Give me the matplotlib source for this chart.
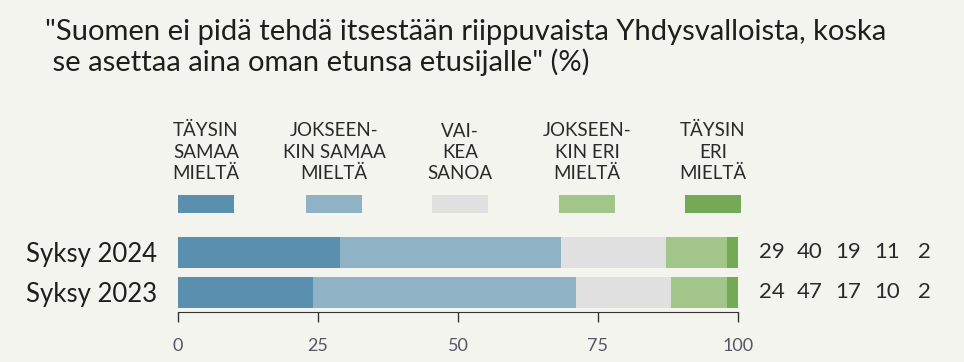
import matplotlib.pyplot as plt
from matplotlib.patches import Rectangle

# data
periods = ['Syksy 2023', 'Syksy 2024']
categories = ['TÄYSIN\nSAMAA\nMIELTÄ', 'JOKSEEN-\nKIN SAMAA\nMIELTÄ', 'VAI-\nKEA\nSANOA',
              'JOKSEEN-\nKIN ERI\nMIELTÄ', 'TÄYSIN\nERI\nMIELTÄ']
values_2023 = [24.1, 47.0, 16.9, 10.0, 2.0]
values_2024 = [28.9, 39.5, 18.7, 10.9, 2.0]
labels_2023 = ['24', '47', '17', '10', '2']
labels_2024 = ['29', '40', '19', '11', '2']
colors = ['#5a8fae', '#8fb2c4', '#e0e0e0', '#a2c68a', '#74aa55']
bg = '#f4f4ef'

plt.rcParams['font.family'] = ['Lato', 'DejaVu Sans']

W, H = 964, 362
fig = plt.figure(figsize=(W / 100, H / 100), dpi=100, facecolor=bg)
ax = fig.add_axes([178 / W, 1 - 311.6 / H, 560 / W, 79.6 / H])
ax.set_facecolor(bg)

series = [values_2023, values_2024]
for i, vals in enumerate(series):
    left = 0
    for v, c in zip(vals, colors):
        ax.barh(i, v, left=left, height=0.78, color=c, edgecolor='none')
        left += v

ax.set_xlim(0, 100)
ax.set_ylim(-0.48, 1.51)
ax.set_yticks([0, 1])
ax.set_yticklabels(periods, fontsize=18.5, color='#1e1e1e')
ax.set_xticks([0, 25, 50, 75, 100])
ax.tick_params(axis='y', length=0, pad=15)
ax.tick_params(axis='x', length=7, width=1, color='#333333', labelsize=13,
               labelcolor='#555566', pad=12)
for s in ['top', 'right', 'left']:
    ax.spines[s].set_visible(False)
ax.spines['bottom'].set_color('#333333')

# numbers at right
num_x = [772, 810, 848, 887, 924]
for i, labs in enumerate([labels_2023, labels_2024]):
    for xp, lab in zip(num_x, labs):
        xf = (xp - 178) / 560 * 100
        ax.text(xf, i, lab, ha='center', va='center', fontsize=16,
                color='#2a2a2a', clip_on=False)

# legend
leg_x = [206, 334, 460, 587, 713]
for xp, lab, c in zip(leg_x, categories, colors):
    fig.add_artist(Rectangle(((xp - 28) / W, 1 - 213 / H), 56 / W, 18 / H,
                             transform=fig.transFigure, facecolor=c, edgecolor='none'))
    fig.text(xp / W, 1 - 182 / H, lab, ha='center', va='bottom', fontsize=13.5,
             color='#2a2a2a', linespacing=1.3)

fig.text(45 / W, 1 - 19 / H,
         '"Suomen ei pidä tehdä itsestään riippuvaista Yhdysvalloista, koska\n'
         ' se asettaa aina oman etunsa etusijalle" (%)',
         ha='left', va='top', fontsize=21, color='#1e1e1e', linespacing=1.15)

fig.savefig('out.png', dpi=100, facecolor=bg)
